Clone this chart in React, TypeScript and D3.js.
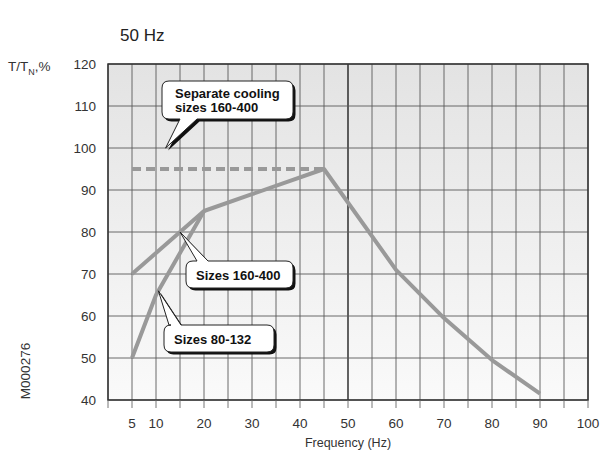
import React from "react";
import * as d3 from "d3";

const freqTicks = [5, 10, 20, 30, 40, 50, 60, 70, 80, 90, 100];
const yTicks = [40, 50, 60, 70, 80, 90, 100, 110, 120];

const sizes160Freq = [5, 20, 30, 45, 60, 70, 80, 90];
const sizes160Val = [70, 85, 89, 95, 71, 59.5, 49.5, 41.5];

const sizes80Freq = [5, 10, 20];
const sizes80Val = [50, 65, 85];

const sepFreq = [5, 45];
const sepVal = [95, 95];

const W = 609, H = 455;
const L = 108, R = 588, T = 64, B = 400;

const x = d3.scaleLinear().domain([0, 100]).range([L, R]);
const y = d3.scaleLinear().domain([40, 120]).range([B, T]);

type Pt = [number, number];

function calloutPath(
  bx: number, by: number, bw: number, bh: number, r: number,
  side: "top" | "bottom", a: number, b: number, tip: Pt
) {
  const x0 = bx, x1 = bx + bw, y0 = by, y1 = by + bh;
  let p = `M${x0 + r},${y0}`;
  if (side === "top") {
    p += `L${a},${y0}L${tip[0]},${tip[1]}L${b},${y0}`;
  }
  p += `L${x1 - r},${y0}Q${x1},${y0} ${x1},${y0 + r}`;
  p += `L${x1},${y1 - r}Q${x1},${y1} ${x1 - r},${y1}`;
  if (side === "bottom") {
    p += `L${b},${y1}L${tip[0]},${tip[1]}L${a},${y1}`;
  }
  p += `L${x0 + r},${y1}Q${x0},${y1} ${x0},${y1 - r}`;
  p += `L${x0},${y0 + r}Q${x0},${y0} ${x0 + r},${y0}Z`;
  return p;
}

function Callout(props: {
  bx: number; by: number; bw: number; bh: number; pad: number;
  side: "top" | "bottom"; a: number; b: number; tip: Pt; lines: string[];
}) {
  const { bx, by, bw, bh, pad, side, a, b, tip, lines } = props;
  const d = calloutPath(bx, by, bw, bh, 7, side, a, b, tip);
  const lh = 14;
  const startY = by + bh / 2 - ((lines.length - 1) * lh) / 2 + 5;
  return (
    <g>
      <path d={d} transform="translate(2.5,2.5)" fill="#111" />
      <path d={d} fill="#fff" stroke="#222" strokeWidth={1} />
      {lines.map((t, i) => (
        <text
          key={i}
          x={bx + pad}
          y={startY + i * lh}
          fontFamily="Liberation Sans, Arial, sans-serif"
          fontWeight="bold"
          fontSize={13}
          fill="#111"
        >
          {t}
        </text>
      ))}
    </g>
  );
}

export default function App() {
  const line = d3.line<Pt>().x((d) => x(d[0])).y((d) => y(d[1]));
  const s160 = sizes160Freq.map((f, i) => [f, sizes160Val[i]] as Pt);
  const s80 = sizes80Freq.map((f, i) => [f, sizes80Val[i]] as Pt);
  const sep = sepFreq.map((f, i) => [f, sepVal[i]] as Pt);
  const vGrid = d3.range(0, 101, 5);
  const font = "Liberation Sans, Arial, sans-serif";

  return (
    <svg width={W} height={H} style={{ position: "absolute", left: 0, top: 0 }}>
      <defs>
        <linearGradient id="bg" x1="0" y1="0" x2="0" y2="1">
          <stop offset="0" stopColor="#e3e3e3" />
          <stop offset="1" stopColor="#fafafa" />
        </linearGradient>
      </defs>
      <rect width={W} height={H} fill="#fff" />
      <text x={120} y={41} fontFamily={font} fontSize={17} fill="#222">50 Hz</text>

      <rect x={L} y={T} width={R - L} height={B - T} fill="url(#bg)" />
      {vGrid.map((v) => (
        <line key={"v" + v} x1={x(v)} x2={x(v)} y1={T} y2={B}
          stroke={v === 50 ? "#111" : "#5a5a5a"} strokeWidth={v === 50 ? 1.3 : 0.9} />
      ))}
      {yTicks.map((v) => (
        <line key={"h" + v} x1={L} x2={R} y1={y(v)} y2={y(v)} stroke="#5a5a5a" strokeWidth={0.9} />
      ))}
      <rect x={L} y={T} width={R - L} height={B - T} fill="none" stroke="#333" strokeWidth={1.5} />
      {vGrid.map((v) => (
        <line key={"t" + v} x1={x(v)} x2={x(v)} y1={B} y2={B + 8} stroke="#666" strokeWidth={0.9} />
      ))}

      {yTicks.map((v) => (
        <text key={"yl" + v} x={96} y={y(v) + 5} textAnchor="end" fontFamily={font} fontSize={13.5} fill="#333">{v}</text>
      ))}
      {freqTicks.map((v) => (
        <text key={"xl" + v} x={x(v)} y={428} textAnchor="middle" fontFamily={font} fontSize={13.5} fill="#333">{v}</text>
      ))}
      <text x={x(50)} y={447} textAnchor="middle" fontFamily={font} fontSize={12.5} fill="#333">Frequency (Hz)</text>
      <text x={8} y={71} fontFamily={font} fontSize={13.5} fill="#333">
        T/T<tspan fontSize={9} dy={4}>N</tspan><tspan dy={-4}>,%</tspan>
      </text>
      <text transform="translate(30,371) rotate(-90)" textAnchor="middle" fontFamily={font} fontSize={13.5} fill="#333">M000276</text>

      <path d={line(sep) || ""} fill="none" stroke="#999" strokeWidth={4} strokeDasharray="9,5" />
      <path d={line(s80) || ""} fill="none" stroke="#999" strokeWidth={4} strokeLinejoin="round" />
      <path d={line(s160) || ""} fill="none" stroke="#999" strokeWidth={4} strokeLinejoin="round" />

      <Callout bx={162} by={81} bw={131} bh={38} pad={13} side="bottom" a={180} b={197}
        tip={[x(12), y(100)]} lines={["Separate cooling", "sizes 160-400"]} />
      <Callout bx={186} by={261} bw={107} bh={27} pad={10} side="top" a={197} b={208}
        tip={[x(15), y(80)]} lines={["Sizes 160-400"]} />
      <Callout bx={164} by={325} bw={110} bh={27} pad={10} side="top" a={169} b={181}
        tip={[x(10.5), y(66)]} lines={["Sizes 80-132"]} />
    </svg>
  );
}
